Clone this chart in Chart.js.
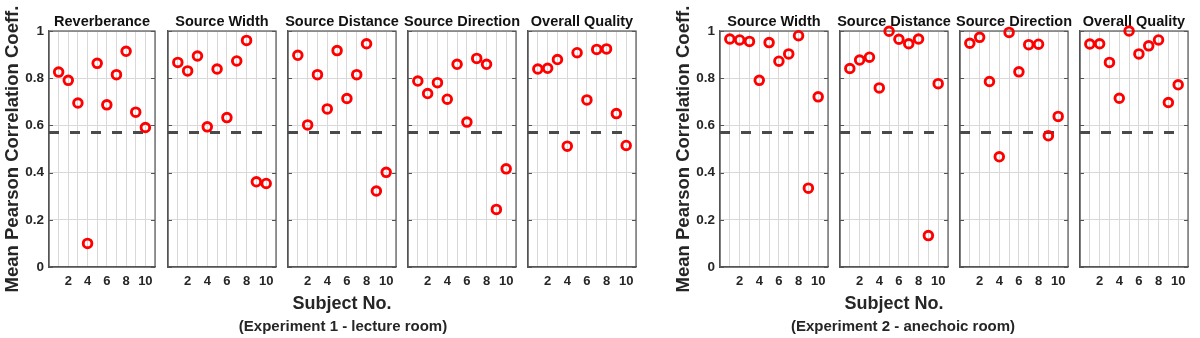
<!DOCTYPE html>
<html><head><meta charset="utf-8">
<script src="https://cdn.jsdelivr.net/npm/chart.js@4.4.1/dist/chart.umd.min.js"></script>
<style>
html,body{margin:0;padding:0;background:#fff}
body{width:1200px;height:338px;position:relative;overflow:hidden;font-family:"Liberation Sans",Arial,sans-serif}
canvas{position:absolute;top:0}
.lbl{position:absolute;font-weight:bold;color:#262626;white-space:nowrap;transform:translateX(-50%)}
</style></head><body>
<script>
// ---- data ----
const subjects = [1,2,3,4,5,6,7,8,9,10];
const xTickValues = [2,4,6,8,10];
const xTickLabels = ['2','4','6','8','10'];
const yTickLabels = ['0','0.2','0.4','0.6','0.8','1'];
const threshold = 0.57;
const thresholdRange = [0,10];
const yAxisTitle = 'Mean Pearson Correlation Coeff.';
const xAxisTitle = 'Subject No.';

const exp1Titles = ['Reverberance','Source Width','Source Distance','Source Direction','Overall Quality'];
const exp1Caption = '(Experiment 1 - lecture room)';
const exp1Reverberance    = [0.826,0.791,0.695,0.100,0.863,0.687,0.815,0.914,0.656,0.591];
const exp1SourceWidth     = [0.867,0.831,0.894,0.594,0.839,0.633,0.873,0.960,0.361,0.354];
const exp1SourceDistance  = [0.897,0.602,0.815,0.670,0.917,0.714,0.815,0.946,0.322,0.401];
const exp1SourceDirection = [0.788,0.735,0.781,0.711,0.859,0.614,0.884,0.859,0.244,0.416];
const exp1OverallQuality  = [0.839,0.842,0.879,0.512,0.908,0.708,0.922,0.924,0.650,0.515];

const exp2Titles = ['Source Width','Source Distance','Source Direction','Overall Quality'];
const exp2Caption = '(Experiment 2 - anechoic room)';
const exp2SourceWidth     = [0.966,0.962,0.956,0.791,0.951,0.872,0.903,0.980,0.334,0.721];
const exp2SourceDistance  = [0.841,0.877,0.889,0.759,0.999,0.965,0.946,0.966,0.133,0.777];
const exp2SourceDirection = [0.948,0.973,0.786,0.467,0.994,0.827,0.942,0.944,0.556,0.638];
const exp2OverallQuality  = [0.945,0.946,0.867,0.715,1.000,0.903,0.937,0.962,0.697,0.772];

// ---- layout ----
const AREA_TOP = 31, AREA_BOTTOM = 267, CANVAS_H = 338;
const PAD_L = 48, PAD_R = 24;
const exp1Lefts = [49,168,288,408,528], exp1Rights = [155,276,396,516,636];
const exp2Lefts = [720,840,960,1080], exp2Rights = [828,948,1068,1188];
const TEXT = '#262626', FRAME = '#555555', GRID = '#d9d9d9';
const FONT = '"Liberation Sans", Arial, sans-serif';

const framePlugin = {
  id:'frame',
  beforeDatasetsDraw(chart){
    const {ctx, chartArea:a, scales} = chart;
    ctx.save();
    ctx.strokeStyle = FRAME; ctx.lineWidth = 1.2;
    ctx.strokeRect(a.left, a.top, a.right-a.left, a.bottom-a.top);
    ctx.beginPath();
    scales.y.ticks.forEach(t=>{
      const y = Math.round(scales.y.getPixelForValue(t.value))+0.5;
      ctx.moveTo(a.left, y); ctx.lineTo(a.left+4, y);
      ctx.moveTo(a.right, y); ctx.lineTo(a.right-4, y);
    });
    ctx.stroke();
    const title = chart.options.plugins.panelTitle;
    ctx.fillStyle = '#111';
    ctx.font = 'bold 14.5px ' + FONT;
    ctx.textAlign = 'center'; ctx.textBaseline = 'alphabetic';
    ctx.fillText(title, (a.left+a.right)/2, 26);
    ctx.restore();
  }
};

function makePanel(left, right, title, values, first){
  const w = PAD_L + (right-left) + PAD_R;
  const cv = document.createElement('canvas');
  cv.width = w; cv.height = CANVAS_H;
  cv.style.width = w+'px'; cv.style.height = CANVAS_H+'px';
  cv.style.left = (left-PAD_L)+'px';
  document.body.appendChild(cv);
  new Chart(cv, {
    type:'scatter',
    data:{datasets:[
      {data: subjects.map((s,i)=>({x:s,y:values[i]})),
       pointRadius:4.3, pointHoverRadius:4.3, borderColor:'#ff0000', pointBorderColor:'#ff0000',
       backgroundColor:'rgba(0,0,0,0)', pointBackgroundColor:'rgba(0,0,0,0)', borderWidth:2.9, pointBorderWidth:2.9, clip:false},
      {type:'line', data: thresholdRange.map(x=>({x:x,y:threshold})),
       borderColor:'#4a4a4a', borderWidth:3.2, borderDash:[10,11], pointRadius:0, fill:false}
    ]},
    options:{
      responsive:false, animation:false, devicePixelRatio:1,
      layout:{padding:{top:AREA_TOP,right:PAD_R,left:0,bottom:0}},
      plugins:{legend:{display:false}, tooltip:{enabled:false}, title:{display:false}, panelTitle:title},
      scales:{
        x:{type:'linear', min:0, max:11,
           ticks:{stepSize:1, autoSkip:false, maxRotation:0, padding:7, color:TEXT,
                  font:{family:FONT, weight:'bold', size:13},
                  callback:(v)=>{const k = xTickValues.indexOf(v); return k>=0 ? xTickLabels[k] : '';}},
           grid:{color:GRID, drawTicks:false, lineWidth:1},
           border:{color:FRAME, width:1.2},
           afterFit:(s)=>{s.height = CANVAS_H-AREA_BOTTOM;}},
        y:{min:0, max:1,
           ticks:{stepSize:0.2, display:first, padding:5, color:TEXT,
                  font:{family:FONT, weight:'bold', size:13.5},
                  callback:(v)=>yTickLabels[Math.round(v*5)]},
           grid:{color:GRID, drawTicks:false, lineWidth:1},
           border:{color:FRAME, width:1.2},
           title:{display:first, text:yAxisTitle, color:TEXT, padding:{top:1,bottom:0},
                  font:{family:FONT, weight:'bold', size:18.5}},
           afterFit:(s)=>{s.width = PAD_L;}}
      }
    },
    plugins:[framePlugin]
  });
}

function addLabel(text, cx, top, size){
  const d = document.createElement('div');
  d.className='lbl'; d.textContent=text;
  d.style.left = cx+'px'; d.style.top = top+'px';
  d.style.fontSize = size+'px'; d.style.lineHeight = size+'px';
  document.body.appendChild(d);
}

const exp1Data = [exp1Reverberance, exp1SourceWidth, exp1SourceDistance, exp1SourceDirection, exp1OverallQuality];
const exp2Data = [exp2SourceWidth, exp2SourceDistance, exp2SourceDirection, exp2OverallQuality];
exp1Data.forEach((v,i)=>makePanel(exp1Lefts[i], exp1Rights[i], exp1Titles[i], v, i===0));
exp2Data.forEach((v,i)=>makePanel(exp2Lefts[i], exp2Rights[i], exp2Titles[i], v, i===0));

addLabel(xAxisTitle, 342, 294, 18);
addLabel(exp1Caption, 343, 318, 15);
addLabel(xAxisTitle, 894, 294, 18);
addLabel(exp2Caption, 903, 318, 15);
</script>
</body></html>
